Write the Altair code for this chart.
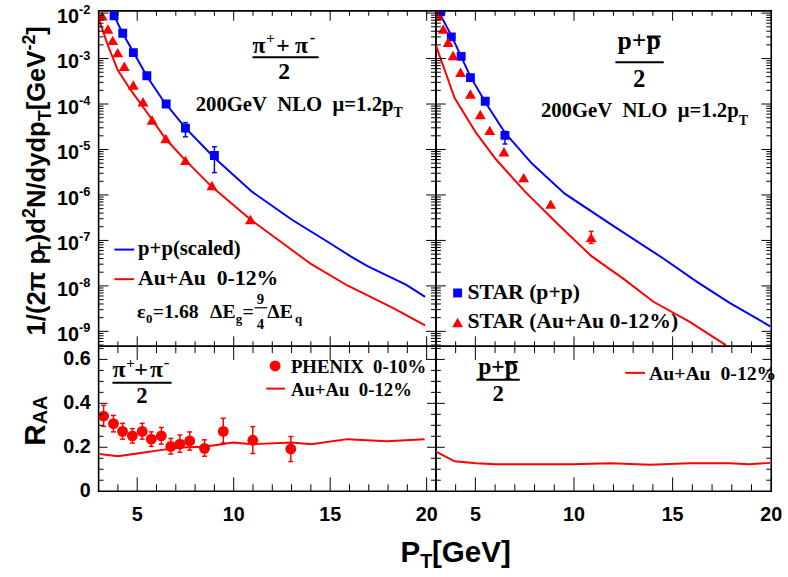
import altair as alt
import pandas as pd

SANS = "Liberation Sans"
SERIF = "Liberation Serif"
BLUE = "#0000ff"
RED = "#ff0000"
NB = "\u00a0"

# ---------------- data ----------------
# pi (top-left)
pi_pp_pt = [3.80, 4.25, 4.80, 5.50, 6.50, 7.50, 9.00]
pi_pp_y = [8.7e-3, 3.6e-3, 1.35e-3, 4.2e-4, 1.0e-4, 2.95e-5, 7.4e-6]
pi_pp_err_pt = [7.50, 9.00]
pi_pp_err_lo = [1.9e-5, 3.1e-6]
pi_pp_err_hi = [3.9e-5, 1.15e-5]

pi_aa_pt = [3.19, 3.48, 3.73, 3.99, 4.33, 4.80, 5.30, 5.77, 6.48, 7.50, 8.87, 10.87]
pi_aa_y = [8.7e-3, 4.47e-3, 2.51e-3, 1.35e-3, 6.76e-4, 2.63e-4, 1.12e-4, 4.47e-5,
           1.74e-5, 5.75e-6, 1.62e-6, 2.88e-7]

pi_pp_curve_pt = [3.65, 4.24, 4.84, 5.52, 6.37, 7.51, 8.97, 10.96, 13.0, 14.95, 16.06, 16.91, 18.95, 19.92]
pi_pp_curve_y = [1.2e-2, 3.63e-3, 1.29e-3, 3.98e-4, 1.15e-4, 2.95e-5, 6.76e-6, 1.17e-6, 2.88e-7,
                 8.9e-8, 4.47e-8, 2.75e-8, 1.05e-8, 5.75e-9]
pi_aa_curve_pt = [3.0, 3.48, 3.99, 4.66, 5.77, 6.48, 7.5, 8.87, 10.87, 14.02, 15.89, 18.27, 19.92]
pi_aa_curve_y = [7.6e-3, 1.95e-3, 5.6e-4, 2.04e-4, 4.57e-5, 1.7e-5, 5.75e-6, 1.51e-6, 2.88e-7,
                 3.0e-8, 1.02e-8, 3.24e-9, 1.35e-9]

# proton (top-right)
p_pp_pt = [3.23, 3.78, 4.28, 4.75, 5.50, 6.50]
p_pp_y = [1.07e-2, 3.0e-3, 1.12e-3, 3.8e-4, 1.15e-4, 2.04e-5]
p_pp_err_pt = [6.50]
p_pp_err_lo = [1.32e-5]
p_pp_err_hi = [2.5e-5]

p_aa_pt = [3.12, 3.37, 3.62, 3.87, 4.25, 4.75, 5.25, 5.73, 6.45, 7.45, 8.82, 10.87]
p_aa_y = [8.7e-3, 4.47e-3, 2.29e-3, 1.17e-3, 5.0e-4, 1.66e-4, 5.9e-5, 2.63e-5, 8.9e-6,
          2.4e-6, 6.3e-7, 1.15e-7]
p_aa_err_pt = [10.87]
p_aa_err_lo = [8.6e-8]
p_aa_err_hi = [1.58e-7]

p_pp_curve_pt = [3.17, 3.78, 4.75, 5.53, 6.5, 7.87, 9.53, 12.03, 14.53, 16.2, 17.87, 19.95]
p_pp_curve_y = [1.02e-2, 3.24e-3, 4.0e-4, 1.05e-4, 2.34e-5, 4.9e-6, 1.07e-6, 2.04e-7, 4.0e-8,
                1.26e-8, 4.3e-9, 1.29e-9]
p_aa_curve_pt = [3.0, 3.95, 5.03, 6.03, 7.53, 9.2, 10.87, 12.53, 14.03, 15.87, 17.7]
p_aa_curve_y = [1.95e-3, 1.35e-4, 2.34e-5, 6.17e-6, 1.17e-6, 2.24e-7, 4.57e-8, 1.41e-8,
                4.47e-9, 1.62e-9, 5.0e-10]

# R_AA (bottom)
raa_pt = [3.26, 3.77, 4.24, 4.75, 5.26, 5.73, 6.25, 6.74, 7.21, 7.72, 8.49, 9.46, 10.99, 12.96]
raa_val = [0.342, 0.308, 0.272, 0.252, 0.272, 0.237, 0.252, 0.204, 0.214, 0.229, 0.195, 0.272, 0.232, 0.192]
raa_hi = [0.391, 0.345, 0.309, 0.285, 0.309, 0.270, 0.290, 0.240, 0.256, 0.270, 0.234, 0.332, 0.294, 0.249]
raa_lo = [0.295, 0.270, 0.237, 0.219, 0.237, 0.204, 0.214, 0.169, 0.177, 0.187, 0.159, 0.219, 0.172, 0.135]

raa_pi_curve_pt = [3.05, 3.99, 5.18, 6.2, 7.21, 8.49, 9.97, 10.96, 13.0, 14.02, 15.89, 17.93, 19.89]
raa_pi_curve = [0.169, 0.159, 0.174, 0.187, 0.199, 0.202, 0.222, 0.214, 0.222, 0.214, 0.237, 0.227, 0.237]
raa_p_curve_pt = [3.0, 3.95, 5.03, 6.03, 7.87, 9.87, 11.87, 13.87, 15.87, 17.87, 18.87, 19.95]
raa_p_curve = [0.180, 0.136, 0.127, 0.123, 0.123, 0.123, 0.127, 0.120, 0.127, 0.127, 0.123, 0.129]

# ticks / labels
x_major = [5, 10, 15, 20]
x_minor = [4, 6, 7, 8, 9, 11, 12, 13, 14, 16, 17, 18, 19]
x_labels = ["5", "10", "15", "20"]
log_major = [1e-9, 1e-8, 1e-7, 1e-6, 1e-5, 1e-4, 1e-3, 1e-2]
log_exp = ["-9", "-8", "-7", "-6", "-5", "-4", "-3", "-2"]
log_minor = [m * d for d in [1e-10, 1e-9, 1e-8, 1e-7, 1e-6, 1e-5, 1e-4, 1e-3]
             for m in range(2, 10) if 4.71e-10 < m * d < 1.117e-2]
raa_major = [0.2, 0.4, 0.6]
raa_minor = [0.05, 0.1, 0.15, 0.25, 0.3, 0.35, 0.45, 0.5, 0.55, 0.65]
raa_lab_v = [0.0, 0.2, 0.4, 0.6]
raa_lab = ["0", "0.2", "0.4", "0.6"]

# ---------------- geometry ----------------
WL, WR, HT, HB = 342, 340, 340, 147
O_TL, O_TR, O_BL, O_BR = (94, 5), (436, 5), (94, 345), (436, 345)
XS_L = alt.Scale(domain=[3, 20.48], nice=False, zero=False)
XS_R = alt.Scale(domain=[3, 20.0], nice=False, zero=False)
YS_LOG = alt.Scale(type="log", domain=[4.71e-10, 1.117e-2], nice=False)
YS_LIN = alt.Scale(domain=[0, 0.66], nice=False, zero=False)


def df(**cols):
    return pd.DataFrame(cols)


def T(o, s, x, y, size, font=SERIF, align="left", angle=0, baseline="alphabetic", color="black"):
    return alt.Chart(df(t=[s])).mark_text(
        font=font, fontSize=size, fontWeight="bold", align=align, baseline=baseline,
        angle=angle, color=color).encode(
        x=alt.value(x - o[0]), y=alt.value(y - o[1]), text="t:N")


def R(o, x1, y1, x2, y2, color="black", w=1.5):
    return alt.Chart(df(k=[0])).mark_rule(color=color, strokeWidth=w).encode(
        x=alt.value(x1 - o[0]), y=alt.value(y1 - o[1]),
        x2=alt.value(x2 - o[0]), y2=alt.value(y2 - o[1]))


def P(o, x, y, shape, size, color):
    return alt.Chart(df(k=[0])).mark_point(
        shape=shape, size=size, filled=True, color=color, opacity=1, strokeWidth=0).encode(
        x=alt.value(x - o[0]), y=alt.value(y - o[1]))


def line(xs, ys, xsc, ysc, color):
    return alt.Chart(df(x=xs, y=ys)).mark_line(color=color, strokeWidth=2, clip=True).encode(
        x=alt.X("x:Q", scale=xsc, axis=None), y=alt.Y("y:Q", scale=ysc, axis=None))


def pts(xs, ys, xsc, ysc, shape, size, color):
    return alt.Chart(df(x=xs, y=ys)).mark_point(
        shape=shape, size=size, filled=True, color=color, opacity=1, strokeWidth=0, clip=True).encode(
        x=alt.X("x:Q", scale=xsc, axis=None), y=alt.Y("y:Q", scale=ysc, axis=None))


def errs(xs, lo, hi, xsc, ysc, color, cap=6):
    d = df(x=xs, lo=lo, hi=hi)
    bar = alt.Chart(d).mark_rule(color=color, strokeWidth=1.5).encode(
        x=alt.X("x:Q", scale=xsc, axis=None), y=alt.Y("lo:Q", scale=ysc, axis=None), y2="hi:Q")
    c1 = alt.Chart(d).mark_tick(orient="horizontal", size=cap, thickness=1.5, color=color, opacity=1).encode(
        x=alt.X("x:Q", scale=xsc, axis=None), y=alt.Y("lo:Q", scale=ysc, axis=None))
    c2 = alt.Chart(d).mark_tick(orient="horizontal", size=cap, thickness=1.5, color=color, opacity=1).encode(
        x=alt.X("x:Q", scale=xsc, axis=None), y=alt.Y("hi:Q", scale=ysc, axis=None))
    return [bar, c1, c2]


def frame_ticks(xsc, ysc, W, H, xmaj_len, xmin_len, ymaj_len, ymin_len, ymaj, ymin):
    out = []
    for vals, ln in [(x_major, xmaj_len), (x_minor, xmin_len)]:
        d = df(v=vals)
        out.append(alt.Chart(d).mark_rule(color="black", strokeWidth=1).encode(
            x=alt.X("v:Q", scale=xsc, axis=None), y=alt.value(H), y2=alt.value(H - ln)))
        out.append(alt.Chart(d).mark_rule(color="black", strokeWidth=1).encode(
            x=alt.X("v:Q", scale=xsc, axis=None), y=alt.value(0), y2=alt.value(ln)))
    for vals, ln in [(ymaj, ymaj_len), (ymin, ymin_len)]:
        d = df(v=vals)
        out.append(alt.Chart(d).mark_rule(color="black", strokeWidth=1).encode(
            y=alt.Y("v:Q", scale=ysc, axis=None), x=alt.value(0), x2=alt.value(ln)))
        out.append(alt.Chart(d).mark_rule(color="black", strokeWidth=1).encode(
            y=alt.Y("v:Q", scale=ysc, axis=None), x=alt.value(W), x2=alt.value(W - ln)))
    return out


# ---------------- top-left ----------------
o = O_TL
tl = [
    line(pi_pp_curve_pt, pi_pp_curve_y, XS_L, YS_LOG, BLUE),
    line(pi_aa_curve_pt, pi_aa_curve_y, XS_L, YS_LOG, RED),
    *errs(pi_pp_err_pt, pi_pp_err_lo, pi_pp_err_hi, XS_L, YS_LOG, BLUE, 5),
    pts(pi_pp_pt, pi_pp_y, XS_L, YS_LOG, "square", 81, BLUE),
    pts(pi_aa_pt, pi_aa_y, XS_L, YS_LOG, "triangle-up", 121, RED),
    *frame_ticks(XS_L, YS_LOG, WL, HT, 10, 5, 10, 5, log_major, log_minor),
    alt.Chart(df(v=log_major, e=log_exp)).mark_text(
        font=SANS, fontSize=20, fontWeight="bold", align="right", baseline="middle", dy=4).encode(
        y=alt.Y("v:Q", scale=YS_LOG, axis=None), x=alt.value(-20), text=alt.value("10")),
    alt.Chart(df(v=log_major, e=log_exp)).mark_text(
        font=SANS, fontSize=13, fontWeight="bold", align="left", baseline="middle", dy=-3).encode(
        y=alt.Y("v:Q", scale=YS_LOG, axis=None), x=alt.value(-20), text="e:N"),
    # pi fraction
    T(o, "π", 250, 48, 24), T(o, "+", 264, 38, 15), T(o, "+", 274, 48, 24),
    T(o, "π", 293, 48, 24), T(o, "-", 308, 38, 17),
    R(o, 250, 52, 317, 52, w=2),
    T(o, "2", 282, 74, 24, align="center"),
    T(o, f"200GeV{NB}{NB}NLO{NB}{NB}μ=1.2p", 393, 106, 21, align="right"),
    T(o, "T", 393, 113, 14),
    # legend
    R(o, 110, 247, 130, 247, BLUE, 2), T(o, "p+p(scaled)", 134, 253, 21),
    R(o, 110, 277, 130, 277, RED, 2), T(o, f"Au+Au{NB}{NB}0-12%", 134, 283, 22),
    T(o, "ε", 133, 316, 20), T(o, "0", 142, 321, 13), T(o, "=1.68", 149, 316, 20),
    T(o, "ΔE", 207, 316, 20), T(o, "g", 233, 321, 13), T(o, "=", 240, 316, 20),
    T(o, "9", 258, 302, 15, align="center"), R(o, 252, 306, 265, 306, w=1.2),
    T(o, "4", 258, 328, 15, align="center"),
    T(o, "ΔE", 265, 316, 20), T(o, "q", 293, 321, 13),
]
# y title (rotated)
AB = {"1": .556, "/": .278, "(": .333, "2": .556, "π": .6, NB: .278, "p": .611, "T": .611,
      ")": .333, "d": .611, "N": .722, "y": .556, "[": .333, "G": .778, "e": .556, "V": .667,
      "-": .333, "]": .333}
ypos = 334
for s, sz, kind in [(f"1/(2π{NB}p", 26, "m"), ("T", 18, "sub"), (")d", 26, "m"), ("2", 18, "sup"),
                    ("N/dydp", 26, "m"), ("T", 18, "sub"), ("[GeV", 26, "m"), ("-2", 18, "sup"),
                    ("]", 26, "m")]:
    bx = {"m": 40, "sub": 46, "sup": 29}[kind]
    tl.append(T(o, s, bx, ypos, sz, font=SANS, angle=270))
    ypos -= sum(AB.get(c, .6) for c in s) * sz
panel_tl = alt.layer(*tl).properties(width=WL, height=HT)

# ---------------- top-right ----------------
o = O_TR
tr = [
    line(p_pp_curve_pt, p_pp_curve_y, XS_R, YS_LOG, BLUE),
    line(p_aa_curve_pt, p_aa_curve_y, XS_R, YS_LOG, RED),
    *errs(p_pp_err_pt, p_pp_err_lo, p_pp_err_hi, XS_R, YS_LOG, BLUE, 5),
    *errs(p_aa_err_pt, p_aa_err_lo, p_aa_err_hi, XS_R, YS_LOG, RED, 5),
    pts(p_pp_pt, p_pp_y, XS_R, YS_LOG, "square", 81, BLUE),
    pts(p_aa_pt, p_aa_y, XS_R, YS_LOG, "triangle-up", 121, RED),
    *frame_ticks(XS_R, YS_LOG, WR, HT, 10, 5, 10, 5, log_major, log_minor),
    T(o, "p+p", 642, 44, 26, align="center"), R(o, 650, 31, 664, 31, w=2),
    R(o, 618, 57, 667, 57, w=2), T(o, "2", 642, 82, 25, align="center"),
    T(o, f"200GeV{NB}{NB}NLO{NB}{NB}μ=1.2p", 743, 113, 21, align="right"),
    T(o, "T", 743, 121, 14),
    P(o, 458, 291, "square", 81, BLUE), T(o, f"STAR{NB}(p+p)", 468, 297, 22),
    P(o, 458, 321, "triangle-up", 121, RED), T(o, f"STAR{NB}(Au+Au{NB}0-12%)", 468, 327, 22),
]
panel_tr = alt.layer(*tr).properties(width=WR, height=HT)

# ---------------- bottom-left ----------------
o = O_BL
bl = [
    line(raa_pi_curve_pt, raa_pi_curve, XS_L, YS_LIN, RED),
    *errs(raa_pt, raa_lo, raa_hi, XS_L, YS_LIN, RED, 5),
    pts(raa_pt, raa_val, XS_L, YS_LIN, "circle", 121, RED),
    *frame_ticks(XS_L, YS_LIN, WL, HB, 14, 7, 9, 5, raa_major, raa_minor),
    alt.Chart(df(v=raa_lab_v, t=raa_lab)).mark_text(
        font=SANS, fontSize=20, fontWeight="bold", align="right", baseline="middle").encode(
        y=alt.Y("v:Q", scale=YS_LIN, axis=None), x=alt.value(-8), text="t:N"),
    alt.Chart(df(v=x_major, t=x_labels)).mark_text(
        font=SANS, fontSize=20, fontWeight="bold", align="center", baseline="alphabetic").encode(
        x=alt.X("v:Q", scale=XS_L, axis=None), y=alt.value(177), text="t:N"),
    T(o, "π", 108, 376, 24), T(o, "+", 122, 367, 15), T(o, "+", 130, 376, 24),
    T(o, "π", 146, 376, 24), T(o, "-", 160, 367, 17),
    R(o, 108, 382, 168, 382, w=2), T(o, "2", 138, 403, 23, align="center"),
    P(o, 273, 365, "circle", 121, RED), T(o, f"PHENIX{NB}{NB}0-10%", 289, 372, 19),
    R(o, 264, 388, 283, 388, RED, 2), T(o, f"Au+Au{NB}{NB}0-12%", 289, 395, 19),
    # x title
    T(o, "P", 400, 564, 30, font=SANS), T(o, "T", 420, 570, 20, font=SANS),
    T(o, "[GeV]", 432, 564, 30, font=SANS),
    # R_AA
    T(o, "R", 40, 446, 30, font=SANS, angle=270),
    T(o, "AA", 42, 424, 20, font=SANS, angle=270),
]
panel_bl = alt.layer(*bl).properties(width=WL, height=HB)

# ---------------- bottom-right ----------------
o = O_BR
br = [
    line(raa_p_curve_pt, raa_p_curve, XS_R, YS_LIN, RED),
    *frame_ticks(XS_R, YS_LIN, WR, HB, 14, 7, 9, 5, raa_major, raa_minor),
    alt.Chart(df(v=x_major, t=x_labels)).mark_text(
        font=SANS, fontSize=20, fontWeight="bold", align="center", baseline="alphabetic").encode(
        x=alt.X("v:Q", scale=XS_R, axis=None), y=alt.value(177), text="t:N"),
    T(o, "p+p", 499, 373, 24, align="center"), R(o, 506, 361, 519, 361, w=2),
    R(o, 477, 379, 521, 379, w=2), T(o, "2", 499, 401, 23, align="center"),
    R(o, 628, 372, 648, 372, RED, 2), T(o, f"Au+Au{NB}{NB}0-12%", 652, 379, 20),
]
panel_br = alt.layer(*br).properties(width=WR, height=HB)

chart = alt.concat(
    panel_tl, panel_tr, panel_bl, panel_br, columns=2, spacing=0, bounds="flush"
).configure_view(
    stroke="black", strokeWidth=1.6
).properties(
    padding={"left": 20, "top": -1, "right": 5, "bottom": 5}, background="white"
)

chart.save("out.html", embed_options={"renderer": "svg", "actions": False})
